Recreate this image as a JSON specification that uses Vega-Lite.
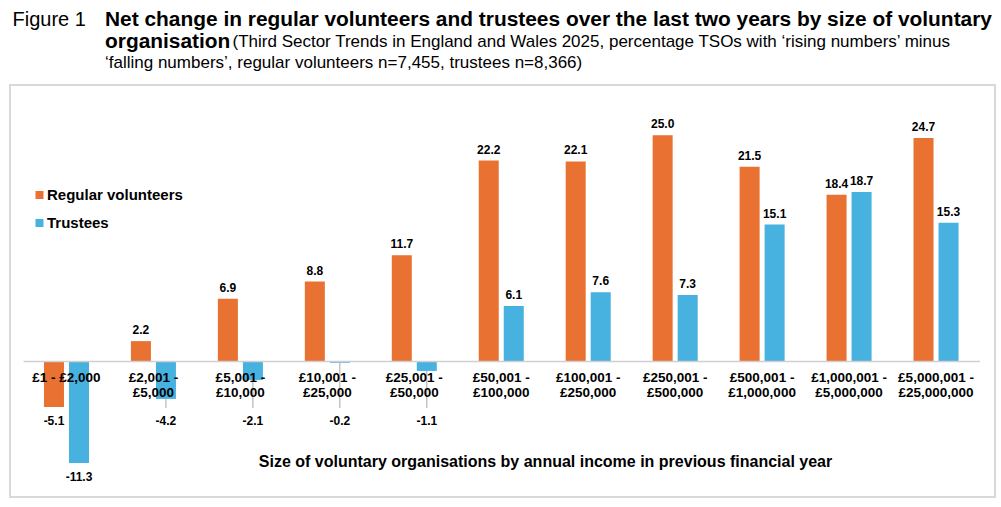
{
  "$schema": "https://vega.github.io/schema/vega-lite/v6.json",
  "autosize": {"type": "none"},
  "padding": {"left": 10, "top": 85, "right": 6, "bottom": 10},
  "width": 985,
  "height": 412,
  "background": "white",
  "config": {
    "font": "Liberation Sans",
    "view": {"stroke": "#D9D9D9", "strokeWidth": 2}
  },
  "title": {
    "text": ["Net change in regular volunteers and trustees over the last two years by size of voluntary", "organisation"],
    "subtitle": ["\u200b\u00a0\u00a0\u00a0\u00a0\u00a0\u00a0\u00a0\u00a0\u00a0\u00a0\u00a0\u00a0\u00a0\u00a0\u00a0\u00a0\u00a0\u00a0\u00a0\u00a0\u00a0\u00a0\u00a0\u00a0\u00a0\u00a0\u00a0(Third Sector Trends in England and Wales 2025, percentage TSOs with \u2018rising numbers\u2019 minus", "\u2018falling numbers\u2019, regular volunteers n=7,455, trustees n=8,366)"],
    "anchor": "start",
    "frame": "group",
    "orient": "top",
    "dx": 95,
    "dy": 75.5,
    "offset": 13,
    "baseline": "top",
    "font": "Liberation Sans",
    "fontSize": 20.9,
    "fontWeight": "bold",
    "color": "black",
    "lineHeight": 21.7,
    "subtitleFont": "Liberation Sans",
    "subtitleFontSize": 17,
    "subtitleColor": "black",
    "subtitleLineHeight": 21.7,
    "subtitlePadding": -17.7
  },
  "data": {
    "values": [
      {"category": "£1 - £2,000", "series": "Regular volunteers", "value": -5.1},
      {"category": "£1 - £2,000", "series": "Trustees", "value": -11.3},
      {"category": "£2,001 - £5,000", "series": "Regular volunteers", "value": 2.2},
      {"category": "£2,001 - £5,000", "series": "Trustees", "value": -4.2},
      {"category": "£5,001 - £10,000", "series": "Regular volunteers", "value": 6.9},
      {"category": "£5,001 - £10,000", "series": "Trustees", "value": -2.1},
      {"category": "£10,001 - £25,000", "series": "Regular volunteers", "value": 8.8},
      {"category": "£10,001 - £25,000", "series": "Trustees", "value": -0.2},
      {"category": "£25,001 - £50,000", "series": "Regular volunteers", "value": 11.7},
      {"category": "£25,001 - £50,000", "series": "Trustees", "value": -1.1},
      {"category": "£50,001 - £100,000", "series": "Regular volunteers", "value": 22.2},
      {"category": "£50,001 - £100,000", "series": "Trustees", "value": 6.1},
      {"category": "£100,001 - £250,000", "series": "Regular volunteers", "value": 22.1},
      {"category": "£100,001 - £250,000", "series": "Trustees", "value": 7.6},
      {"category": "£250,001 - £500,000", "series": "Regular volunteers", "value": 25.0},
      {"category": "£250,001 - £500,000", "series": "Trustees", "value": 7.3},
      {"category": "£500,001 - £1,000,000", "series": "Regular volunteers", "value": 21.5},
      {"category": "£500,001 - £1,000,000", "series": "Trustees", "value": 15.1},
      {"category": "£1,000,001 - £5,000,000", "series": "Regular volunteers", "value": 18.4},
      {"category": "£1,000,001 - £5,000,000", "series": "Trustees", "value": 18.7},
      {"category": "£5,000,001 - £25,000,000", "series": "Regular volunteers", "value": 24.7},
      {"category": "£5,000,001 - £25,000,000", "series": "Trustees", "value": 15.3}
    ]
  },
  "transform": [
    {"calculate": "replace(format(datum.value, '.1f'), '\u2212', '-')", "as": "label"}
  ],
  "encoding": {
    "x": {
      "field": "category",
      "type": "nominal",
      "sort": null,
      "scale": {"range": [13, 969.5], "paddingInner": 0, "paddingOuter": 0},
      "axis": {
        "title": "Size of voluntary organisations by annual income in previous financial year",
        "orient": "bottom",
        "offset": -136,
        "domainColor": "#D0D0D0",
        "domainWidth": 1.5,
        "ticks": false,
        "labelAngle": 0,
        "labelFontSize": 13.5,
        "labelFontWeight": "bold",
        "labelColor": "black",
        "labelPadding": 9,
        "labelLineHeight": 15.5,
        "labelOverlap": false,
        "labelBound": false,
        "labelLimit": 0,
        "labelExpr": "datum.value == '£1 - £2,000' ? datum.value : [slice(datum.value, 0, indexof(datum.value, ' - ') + 2), slice(datum.value, indexof(datum.value, ' - ') + 3)]",
        "zindex": 1,
        "titleFontSize": 16,
        "titleFontWeight": "bold",
        "titleColor": "black",
        "titleX": 535,
        "titleY": 105,
        "titleAlign": "center",
        "titleBaseline": "alphabetic"
      }
    },
    "xOffset": {
      "field": "series",
      "type": "nominal",
      "sort": ["Regular volunteers", "Trustees"],
      "scale": {"paddingInner": 0.2, "paddingOuter": 0.838}
    }
  },
  "layer": [
    {
      "mark": {"type": "bar"},
      "encoding": {
        "y": {
          "field": "value",
          "type": "quantitative",
          "scale": {"domain": [-15.06, 30.56], "nice": false, "zero": false},
          "axis": {
            "title": "Figure 1",
            "labels": false,
            "ticks": false,
            "domain": false,
            "grid": false,
            "titleAngle": 0,
            "titleX": 2,
            "titleY": -60,
            "titleAlign": "left",
            "titleBaseline": "alphabetic",
            "titleFontSize": 20,
            "titleFontWeight": "normal",
            "titleColor": "black"
          }
        },
        "color": {
          "field": "series",
          "type": "nominal",
          "scale": {"domain": ["Regular volunteers", "Trustees"], "range": ["#E97132", "#47B1E0"]},
          "legend": {
            "orient": "none",
            "legendX": 22,
            "legendY": 102.5,
            "title": null,
            "symbolType": "square",
            "symbolSize": 64,
            "symbolStrokeWidth": 0,
            "symbolOpacity": 1,
            "labelFontSize": 15,
            "labelFontWeight": "bold",
            "labelColor": "black",
            "rowPadding": 12,
            "padding": 0,
            "labelOffset": 0
          }
        }
      }
    },
    {
      "transform": [{"filter": "datum.value < 0 && datum.value > -5"}],
      "mark": {"type": "rule", "color": "#A6A6A6", "strokeWidth": 1},
      "encoding": {
        "y": {"field": "value", "type": "quantitative"},
        "y2": {"datum": -5.2}
      }
    },
    {
      "transform": [{"filter": "datum.value >= 0"}],
      "mark": {"type": "text", "baseline": "middle", "dy": -11, "fontSize": 12, "fontWeight": "bold", "color": "black"},
      "encoding": {
        "y": {"field": "value", "type": "quantitative"},
        "text": {"field": "label", "type": "nominal"}
      }
    },
    {
      "transform": [{"filter": "datum.value < 0 && datum.value > -6"}],
      "mark": {"type": "text", "baseline": "middle", "fontSize": 12, "fontWeight": "bold", "color": "black"},
      "encoding": {
        "y": {"datum": -6.6, "type": "quantitative"},
        "text": {"field": "label", "type": "nominal"}
      }
    },
    {
      "transform": [{"filter": "datum.value <= -6"}],
      "mark": {"type": "text", "baseline": "middle", "dy": 13.5, "fontSize": 12, "fontWeight": "bold", "color": "black"},
      "encoding": {
        "y": {"field": "value", "type": "quantitative"},
        "text": {"field": "label", "type": "nominal"}
      }
    }
  ]
}
